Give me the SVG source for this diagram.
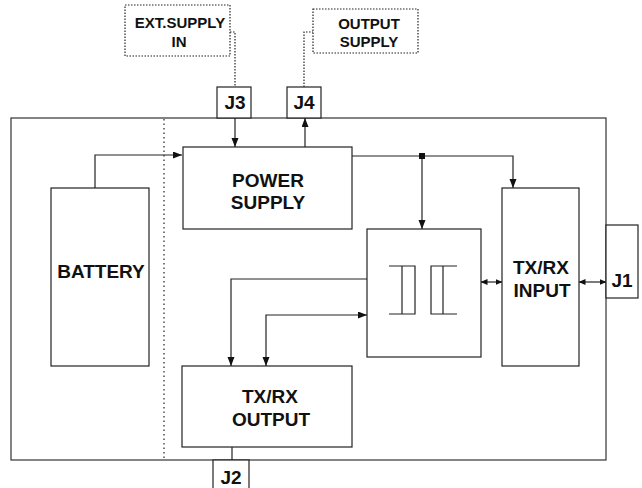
<svg xmlns="http://www.w3.org/2000/svg" width="642" height="488" viewBox="0 0 642 488">
<style>
.box{fill:#fff;stroke:#222;stroke-width:1.2}
.dbox{fill:#fff;stroke:#222;stroke-width:1.2;stroke-dasharray:1.5,1.5}
.ln{fill:none;stroke:#222;stroke-width:1.2}
.dl{fill:none;stroke:#222;stroke-width:1.2;stroke-dasharray:1.5,1.5}
.t{font-family:"Liberation Sans",Arial,sans-serif;font-weight:bold;font-size:19px;text-anchor:middle;fill:#111}
.s{font-family:"Liberation Sans",Arial,sans-serif;font-weight:bold;font-size:15px;text-anchor:middle;fill:#111}
</style>
<defs>
<marker id="a" markerUnits="userSpaceOnUse" markerWidth="10" markerHeight="8" refX="9" refY="3.5" orient="auto-start-reverse"><path d="M0,0 L9,3.5 L0,7 z" fill="#111"/></marker>
<marker id="b" markerUnits="userSpaceOnUse" markerWidth="8" markerHeight="7" refX="6.5" refY="3" orient="auto-start-reverse"><path d="M0,0 L7,3 L0,6 z" fill="#111"/></marker>
</defs>
<g id="frame">
<rect x="11" y="118" width="595" height="342" fill="#fff" stroke="#333" stroke-width="1.2"/>
<line x1="164" y1="119" x2="164" y2="459" stroke="#222" stroke-width="1.2" stroke-dasharray="1.5,3"/>
</g>
<g id="connectors">
<path class="ln" d="M95,188 V155 H182" marker-end="url(#a)"/>
<path class="ln" d="M235,118 V147" marker-end="url(#a)"/>
<path class="ln" d="M305,147 V118" marker-end="url(#a)"/>
<path class="ln" d="M352,156 H513 V188" marker-end="url(#a)"/>
<path class="ln" d="M422,156 V229" marker-end="url(#a)"/>
<rect x="419" y="153" width="6" height="6" fill="#111"/>
<path class="ln" d="M367,279 H231 V366" marker-end="url(#a)"/>
<path class="ln" d="M266,366 V315 H367" marker-start="url(#a)" marker-end="url(#a)"/>
<path class="ln" d="M481,282 H502" marker-start="url(#b)" marker-end="url(#b)"/>
<path class="ln" d="M579,282 H606" marker-start="url(#b)" marker-end="url(#b)"/>
<path class="ln" d="M232,447 V460"/>
<path class="dl" d="M230,32 H235 V87"/>
<path class="dl" d="M304,87 V32 H313"/>
</g>
<g id="ext-supply-in">
<rect class="dbox" x="125" y="5" width="105" height="51"/>
<text class="s" x="180" y="28">EXT.SUPPLY</text>
<text class="s" x="179" y="47">IN</text>
</g>
<g id="output-supply">
<rect class="dbox" x="313" y="9" width="105" height="44"/>
<text class="s" x="369" y="29">OUTPUT</text>
<text class="s" x="369" y="47">SUPPLY</text>
</g>
<g id="j3">
<rect class="box" x="217" y="87" width="34" height="31"/>
<text class="t" x="235" y="109">J3</text>
</g>
<g id="j4">
<rect class="box" x="287" y="87" width="34" height="31"/>
<text class="t" x="304" y="109">J4</text>
</g>
<g id="battery">
<rect class="box" x="51" y="188" width="98" height="178"/>
<text class="t" x="101" y="278">BATTERY</text>
</g>
<g id="power-supply">
<rect class="box" x="183" y="147" width="169" height="82"/>
<text class="t" x="268" y="187">POWER</text>
<text class="t" x="268" y="209">SUPPLY</text>
</g>
<g id="filter">
<rect class="box" x="367" y="229" width="114" height="128"/>
<path class="ln" d="M389,266 H415 V314 H389 M402,266 V314"/>
<path class="ln" d="M457,266 H431 V314 H457 M443,266 V314"/>
</g>
<g id="txrx-input">
<rect class="box" x="502" y="188" width="77" height="178"/>
<text class="t" x="541" y="274">TX/RX</text>
<text class="t" x="542" y="297">INPUT</text>
</g>
<g id="j1">
<rect class="box" x="606" y="225" width="32" height="73"/>
<text class="t" x="622" y="287">J1</text>
</g>
<g id="txrx-output">
<rect class="box" x="182" y="366" width="170" height="81"/>
<text class="t" x="270" y="403">TX/RX</text>
<text class="t" x="271" y="426">OUTPUT</text>
</g>
<g id="j2">
<rect class="box" x="213" y="460" width="36" height="32"/>
<text class="t" x="231" y="484">J2</text>
</g>
</svg>
